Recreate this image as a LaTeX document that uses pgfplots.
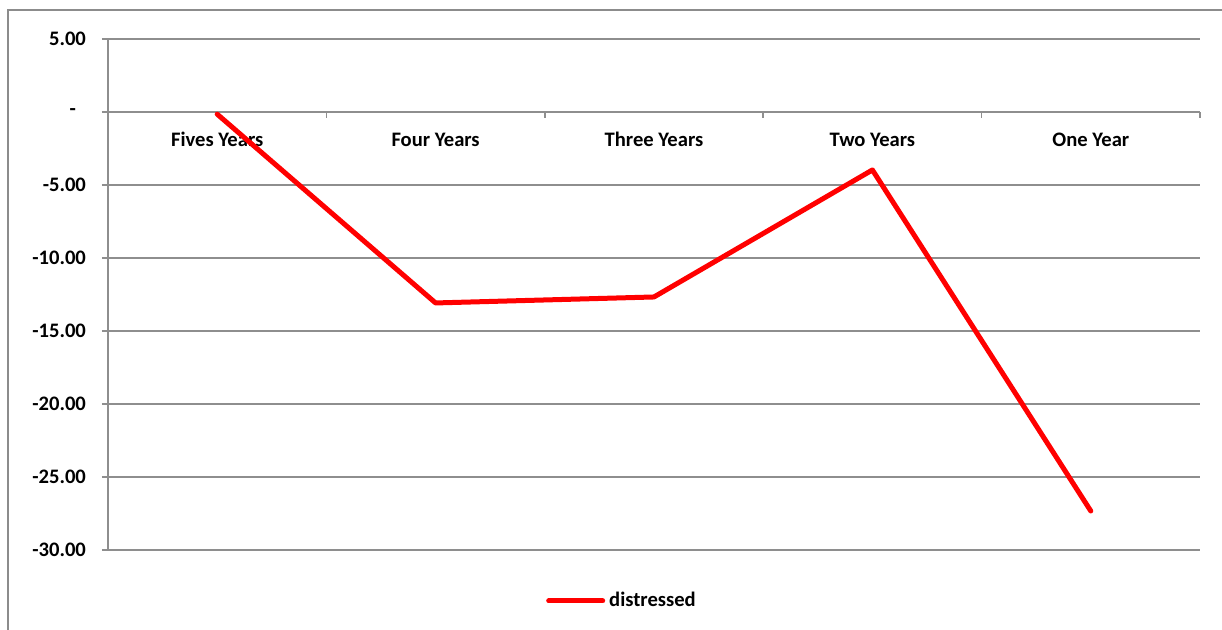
\documentclass[border=0pt]{standalone}
\usepackage{pgfplots}
\pgfplotsset{compat=1.18}
\usepackage{fontspec}
\setmainfont{Carlito}
\definecolor{gridgray}{HTML}{8E8E8E}
\definecolor{framegray}{HTML}{8C8C8C}
\definecolor{seriesred}{HTML}{FF0000}
\newcommand{\chartfont}{\fontsize{10.3}{12}\selectfont\bfseries}
\begin{document}
\begin{tikzpicture}[x=1pt,y=1pt]
\useasboundingbox (0,0) rectangle (611,315);
% chart frame (left and top edges fall inside the page)
\draw[framegray, line width=1pt] (4,-20) rectangle (640,310);
\begin{axis}[
  at={(54pt,40pt)}, anchor=south west,
  scale only axis, width=546pt, height=255.5pt,
  xmin=-0.5, xmax=4.5, ymin=-30, ymax=5,
  axis x line=middle, axis y line=left,
  axis line style={-, draw=gridgray, line width=0.75pt},
  xtick={0,1,2,3,4},
  xticklabels={Fives Years, Four Years, Three Years, Two Years, One Year},
  minor xtick={-0.5,0.5,1.5,2.5,3.5,4.5},
  major x tick style={draw=none},
  minor x tick style={draw=gridgray, line width=0.75pt},
  minor tick length=3pt,
  tick align=outside,
  xticklabel style={font=\chartfont, anchor=base, yshift=-14.5pt},
  ytick={-30,-25,-20,-15,-10,-5,0,5},
  yticklabels={-30.00,-25.00,-20.00,-15.00,-10.00,-5.00,{-\rule{5pt}{0pt}},5.00},
  yticklabel style={font=\chartfont, anchor=east, xshift=-4.5pt},
  major y tick style={draw=gridgray, line width=0.75pt},
  major tick length=3pt,
  ymajorgrids=true,
  grid style={draw=gridgray, line width=0.75pt},
  clip=false,
  legend style={at={(axis description cs:0.4716,-0.0998)}, anchor=center,
    draw=none, fill=none, font=\chartfont,
    /tikz/every odd column/.append style={column sep=0pt}},
  legend image code/.code={\draw[#1] (0pt,0pt) -- (27pt,0pt);},
]
\addplot[seriesred, line width=2.5pt, line cap=round, line join=round] coordinates {
  (0,-0.15) (1,-13.08) (2,-12.67) (3,-3.97) (4,-27.33)
};
\addlegendentry{distressed}
\end{axis}
\end{tikzpicture}
\end{document}
